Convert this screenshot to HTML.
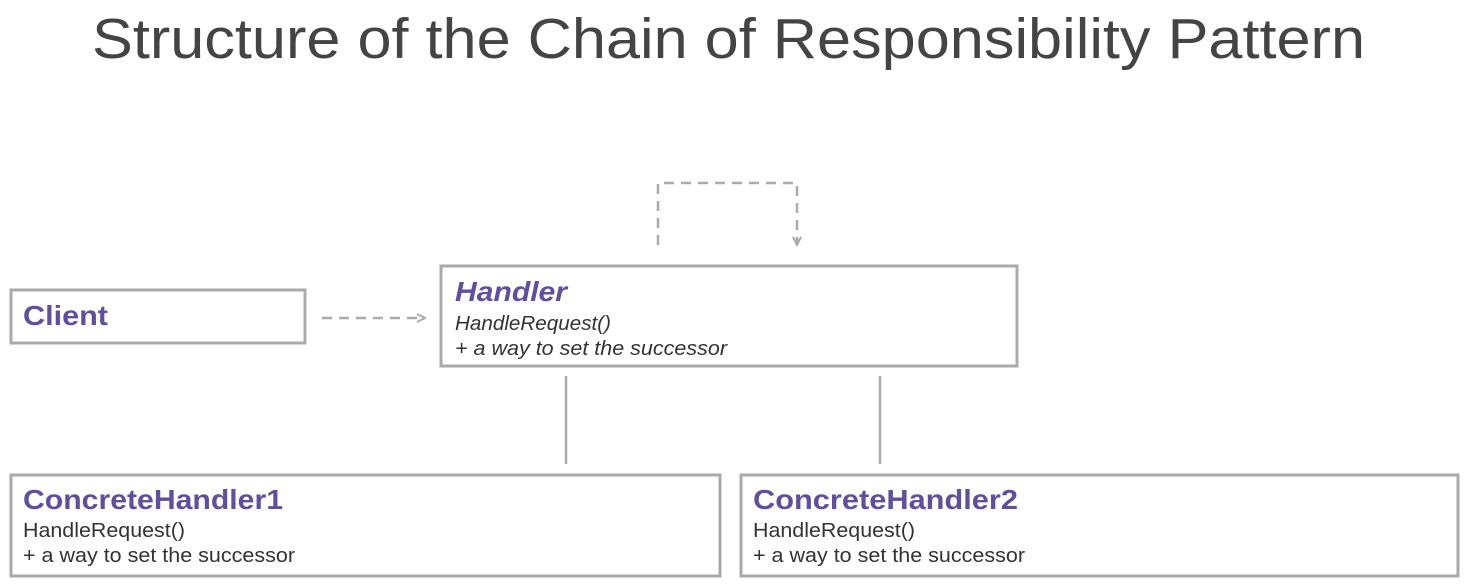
<!DOCTYPE html>
<html><head><meta charset="utf-8"><style>
html,body{margin:0;padding:0;background:#fff;}
svg{display:block;}
text{font-family:"Liberation Sans",sans-serif;}
</style></head><body>
<svg width="1468" height="585" viewBox="0 0 1468 585" xmlns="http://www.w3.org/2000/svg">
<defs><marker id="a" markerWidth="10" markerHeight="10" refX="9" refY="5" orient="auto" markerUnits="userSpaceOnUse"><path d="M1,1 L9,5 L1,9" fill="none" stroke="#aaa" stroke-width="2"/></marker></defs>
<text x="92" y="58" font-size="57" fill="#444" textLength="1273" lengthAdjust="spacingAndGlyphs">Structure of the Chain of Responsibility Pattern</text>
<g fill="none" stroke="#aaa" stroke-width="3">
<rect x="11" y="290" width="294" height="53"/>
<rect x="441" y="266" width="576" height="100"/>
<rect x="11" y="475" width="709" height="101"/>
<rect x="741" y="475" width="717" height="101"/>
</g>
<g stroke="#aaa" stroke-width="2.5" fill="none">
<line x1="566" y1="376" x2="566" y2="464"/>
<line x1="880" y1="376" x2="880" y2="464"/>
<line x1="322" y1="318" x2="425" y2="318" stroke-dasharray="10,7" marker-end="url(#a)"/>
<path d="M658,245 L658,183 L797,183 L797,245" stroke-dasharray="10,7" marker-end="url(#a)"/>
</g>
<g fill="#5f4f9e" font-weight="bold" font-size="28">
<text x="23" y="325" textLength="85" lengthAdjust="spacingAndGlyphs">Client</text>
<text x="455" y="301" font-style="italic" textLength="112" lengthAdjust="spacingAndGlyphs">Handler</text>
<text x="23" y="509" textLength="260" lengthAdjust="spacingAndGlyphs">ConcreteHandler1</text>
<text x="753" y="509" textLength="265" lengthAdjust="spacingAndGlyphs">ConcreteHandler2</text>
</g>
<g fill="#333" font-size="20">
<text x="455" y="330" font-style="italic" textLength="156" lengthAdjust="spacingAndGlyphs">HandleRequest()</text>
<text x="455" y="355" font-style="italic" textLength="272" lengthAdjust="spacingAndGlyphs">+ a way to set the successor</text>
<text x="23" y="537" textLength="162" lengthAdjust="spacingAndGlyphs">HandleRequest()</text>
<text x="23" y="562" textLength="272" lengthAdjust="spacingAndGlyphs">+ a way to set the successor</text>
<text x="753" y="537" textLength="162" lengthAdjust="spacingAndGlyphs">HandleRequest()</text>
<text x="753" y="562" textLength="272" lengthAdjust="spacingAndGlyphs">+ a way to set the successor</text>
</g>
</svg>
</body></html>
